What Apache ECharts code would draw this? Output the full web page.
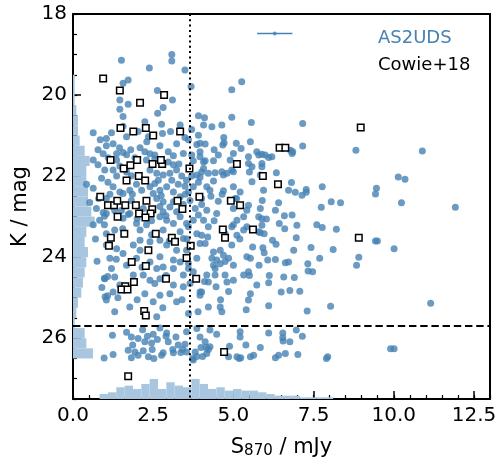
<!DOCTYPE html>
<html><head><meta charset="utf-8">
<script src="https://cdn.jsdelivr.net/npm/echarts/dist/echarts.min.js"></script>
<style>html,body{margin:0;padding:0;background:#fff}#c{width:499px;height:457px}</style>
</head><body><div id="c"></div>
<script>
// ---------- data ----------
const xTickValues = [0, 2.5, 5, 7.5, 10, 12.5];
const xMax = 13;
const yTickValues = [18, 20, 22, 24, 26];
const yMax = 27.5;

// AS2UDS sources: [S870 (mJy), K (mag)]
const as2uds = [
[1.51,19.14],[3.08,19.0],[3.08,19.16],[2.38,19.33],[3.49,19.38],[1.72,19.63],[1.56,19.71],[3.68,19.79],[4.95,19.87],[5.26,19.67],[2.63,19.89],[1.46,20.12],[1.72,20.23],[3.1,20.12],[1.46,20.35],[2.81,20.31],[2.64,20.45],[1.56,20.53],[3.91,20.51],[4.1,20.56],[4.95,20.55],
[0.63,20.93],[1.2,20.93],[1.56,20.77],[1.67,21.03],[2.03,20.9],[2.35,21.03],[2.76,20.72],[2.79,20.95],[3.04,20.9],[3.34,20.74],[3.49,21.05],[3.91,20.99],[2.24,20.66],[1.04,21.07],[3.7,20.85],
[0.78,21.35],[1.04,21.25],[1.36,21.45],[1.56,21.42],[1.67,21.47],[2.24,21.4],[2.4,21.45],[2.55,21.48],[2.97,21.4],[3.13,21.5],[3.44,21.44],[3.7,21.48],[3.96,21.4],[1.25,21.2],[2.09,21.3],[2.71,21.25],[3.23,21.2],[3.86,21.22],[0.94,21.45],
[0.78,21.72],[0.99,21.85],[1.25,21.85],[1.46,21.75],[1.67,21.9],[1.82,21.99],[2.4,21.85],[2.61,21.93],[2.81,21.97],[3.02,21.93],[3.23,21.85],[3.39,22.0],[3.54,22.1],[3.7,22.0],[3.86,21.97],[4.01,21.9],[2.29,21.6],[2.97,21.65],[3.13,21.72],[0.63,21.6],[1.36,21.6],[1.93,21.55],[3.75,21.62],
[0.63,22.3],[1.25,22.26],[1.46,22.39],[1.56,22.43],[2.4,22.26],[2.5,22.43],[2.71,22.35],[2.92,22.26],[3.13,22.39],[3.34,22.51],[3.6,22.39],[3.75,22.26],[0.89,22.05],[1.09,22.15],[1.36,22.0],[1.98,22.2],[2.14,22.35],[2.66,22.1],[3.08,22.1],[3.28,22.2],[3.91,22.15],[0.42,22.2],[1.77,22.35],[2.55,22.18],[3.49,22.25],
[2.81,22.63],[3.02,22.76],[3.13,22.63],[2.71,22.75],[3.65,22.6],[3.44,22.7],[3.81,22.8],[0.52,22.65],[0.73,22.8],[1.04,22.55],[1.51,22.85],[1.82,22.6],[2.19,22.8],[2.61,22.55],[3.23,22.88],[4.01,22.7],[0.94,22.9],[1.72,22.95],
[0.83,23.09],[1.04,22.92],[1.56,23.04],[1.77,22.92],[1.98,23.17],[2.71,23.0],[2.81,22.88],[2.92,23.09],[3.13,23.17],[3.34,23.0],[3.54,23.17],[3.75,23.09],[3.91,22.96],[2.29,23.2],[0.63,23.2],[2.45,23.1],
[4.07,20.74],[4.33,20.78],[4.64,20.74],[5.56,20.68],[3.96,21.19],[4.12,21.21],[4.67,21.23],[4.71,21.18],[5.09,21.19],[5.24,21.32],[5.53,21.15],[5.73,21.4],[5.79,21.48],[3.96,21.52],[4.12,21.62],[4.38,21.62],[4.53,21.48],[5.0,21.44],[5.47,21.52],[5.58,21.77],[4.07,21.81],[4.22,21.93],[4.43,21.92],[4.64,21.89],[4.8,21.93],[5.0,21.89],[3.96,22.03],[4.38,22.12],[4.69,21.97],[5.58,22.14],[4.27,22.35],[4.69,22.36],[5.0,22.26],[5.21,22.39],[5.06,22.55],[4.53,22.62],[4.17,22.84],[4.48,22.92],[5.0,22.8],[5.47,22.72],[5.42,22.84],[5.84,22.8],[5.79,23.0],[5.32,23.0],[5.11,23.09],[4.95,23.25],[5.42,23.25],[4.07,23.09],[4.22,23.25],[4.01,22.55],[4.17,22.26],[4.07,21.65],[4.95,21.85],[5.47,21.69],[5.84,21.97],
[7.16,20.7],[7.16,21.26],[8.82,21.36],[10.89,21.38],[5.89,21.46],[5.99,21.48],[6.1,21.54],[6.2,21.52],[5.89,21.69],[5.89,21.77],[6.34,21.92],[6.81,22.16],[6.72,22.35],[6.93,22.4],[7.14,22.47],[7.27,22.4],[7.27,22.33],[7.77,22.26],[5.94,22.35],[9.46,22.3],[9.43,22.44],[10.14,22.02],[10.35,22.08],[6.85,21.4],[6.83,21.44],[6.78,21.36],
[1.04,23.42],[1.3,23.33],[2.09,23.33],[2.81,23.33],[3.34,23.37],[3.44,23.54],[3.86,23.42],[2.09,23.58],[2.71,23.58],[2.92,23.7],[3.23,23.83],[3.54,23.83],[3.96,23.66],[1.15,24.03],[1.56,23.91],[2.09,23.83],[2.71,23.99],[3.13,24.07],[3.34,24.12],[3.86,24.03],[1.2,24.28],[1.67,24.2],[2.61,24.28],[3.13,24.28],[3.44,24.44],[0.99,24.53],[1.3,24.49],[2.19,24.44],[2.4,24.57],[2.55,24.65],[2.71,24.53],[3.13,24.69],[3.44,24.73],[3.65,24.65],[4.01,24.86],[1.25,24.86],[1.04,25.06],[2.24,24.9],[3.02,24.9],[2.5,25.1],[2.71,24.94],[1.77,25.23],[3.6,25.39],[3.96,24.94],[1.46,24.69],[1.88,24.44],[2.81,24.24],[2.4,24.12],[1.36,23.79],[1.88,23.7],[2.4,23.62],[3.6,24.28],[1.04,23.7],[3.75,24.36],[1.98,24.03],[2.61,25.47],[3.23,25.1],
[4.01,23.46],[4.12,23.66],[4.38,23.87],[4.48,24.07],[4.59,24.16],[4.74,24.11],[4.85,24.03],[4.59,23.83],[4.69,23.95],[4.38,24.2],[4.43,24.28],[4.17,24.44],[4.43,24.44],[4.74,24.44],[4.8,24.61],[5.0,24.57],[5.32,24.44],[5.47,24.36],[5.42,23.99],[5.53,24.03],[5.73,24.69],[4.46,24.73],[4.22,24.61],[3.96,24.86],[5.53,24.9],[5.47,25.06],[5.32,23.33],[5.11,23.46],[4.95,23.7],[4.22,25.23],[4.59,25.23],[4.64,25.35],[5.79,23.37],[4.74,23.42],[4.33,24.03],[5.0,24.2],
[6.41,22.66],[8.05,22.63],[8.34,22.66],[10.24,22.66],[11.92,22.77],[6.31,22.84],[6.59,22.98],[6.83,22.96],[7.74,22.77],[5.89,23.05],[6.03,23.06],[5.89,23.21],[6.43,23.17],[6.98,23.21],[7.77,23.27],[8.21,23.31],[9.43,23.6],[9.49,23.6],[10.01,23.79],[5.84,23.4],[5.96,23.42],[6.22,23.58],[6.33,23.68],[5.92,23.77],[5.96,23.89],[6.96,23.52],[6.88,23.83],[7.42,23.76],[8.11,23.81],[6.07,24.07],[6.31,24.06],[6.62,24.14],[6.72,24.12],[7.32,24.16],[7.69,24.03],[7.33,24.34],[7.47,24.36],[8.84,24.2],[8.91,24.0],[6.12,24.45],[6.1,24.63],[6.57,24.49],[6.49,24.86],[6.76,24.82],[7.07,24.84],[7.3,25.33],[8.03,25.21],[11.15,25.14],
[1.23,25.93],[1.82,25.97],[2.03,26.01],[2.17,25.79],[2.32,25.95],[2.63,26.03],[2.71,25.75],[2.9,25.95],[2.92,25.87],[3.21,25.97],[3.54,25.84],[3.86,25.76],[3.96,25.97],[5.21,25.84],[5.21,25.97],[6.1,25.87],[4.27,25.8],[4.48,25.9],[1.67,25.85],[2.5,25.9],[6.54,25.87],[6.54,25.99],[6.96,25.8],[7.15,25.95],
[0.97,26.49],[1.25,26.4],[1.72,26.3],[1.86,26.17],[1.93,26.34],[1.82,26.48],[2.03,26.42],[2.19,26.31],[2.35,26.46],[2.24,26.09],[2.45,26.12],[2.47,26.28],[2.52,26.5],[2.76,26.42],[2.81,26.36],[2.97,26.09],[3.11,26.28],[3.13,26.36],[3.28,26.17],[3.36,26.35],[3.42,26.28],[3.49,26.15],[3.54,26.34],[3.73,26.5],[3.81,26.34],[3.75,26.54],[3.86,26.45],[3.99,26.23],[4.04,26.45],[4.12,26.09],[4.17,26.38],[4.22,26.28],[4.27,26.21],[4.15,26.23],[4.88,26.2],[4.85,26.46],[5.11,26.46],[5.18,26.5],[5.23,26.48],[5.39,26.17],[5.53,26.46],[5.63,26.42],[5.84,26.23],[6.31,26.48],[6.41,26.42],[6.62,26.38],[7.01,26.4],[7.9,26.5],[7.94,26.46],[9.9,26.26],[10.01,26.26],[6.55,26.07],[6.76,26.09],
[0.98,22.99],[0.98,23.2],[0.98,24.52],[1.08,24.48],[1.0,24.98],[1.08,24.95],
[1.1,21.55],[1.45,21.3],[1.8,21.35],[2.55,21.58],[3.3,21.7],[4.4,21.35],[4.9,21.6],
[1.15,22.45],[1.85,22.45],[2.75,22.48],[3.5,22.45],[4.3,22.5],[4.65,22.45],[5.1,22.55],
[1.3,22.85],[2.0,23.05],[2.9,22.98],[3.6,23.25],[4.4,23.1],[5.0,23.2],
[1.55,23.3],[2.45,23.45],[3.0,23.6],[3.55,23.55],[4.2,23.5],[5.2,23.55],[5.6,23.75],
[1.35,24.05],[2.15,24.25],[2.9,24.45],[3.6,24.15],[4.1,24.6],[4.85,24.85],[5.5,24.45],
[1.4,25.0],[2.0,25.05],[2.8,25.25],[3.4,25.05],[3.9,25.35],[4.6,25.05],[5.4,25.3],
[0.85,21.1],[0.8,22.55],[0.7,23.55],[0.75,24.1],[0.9,24.75],[1.3,25.35],
[2.3,21.15],[3.6,21.1],[4.7,21.05],[5.5,21.9],[5.9,22.6],[5.8,24.2],[6.6,23.3],[6.9,24.5],[7.6,23.2],[6.1,25.2]
];

// Cowie+18 sources: [S870 (mJy), K (mag)]
const cowie18 = [
[0.94,19.59],[1.46,19.89],[2.09,20.19],[2.84,20.0],[1.48,20.81],[1.88,20.9],[2.27,20.81],[2.5,21.0],[3.34,20.9],[1.17,21.6],[1.58,21.81],[1.79,21.73],[2.0,21.6],[1.67,22.11],[2.05,22.0],[2.25,22.11],[2.48,21.7],[2.78,21.7],[2.74,21.6],[3.63,21.81],[0.85,22.51],[1.09,22.72],[1.28,22.72],[1.38,22.61],[1.63,22.72],[1.96,22.72],[2.29,22.61],[3.26,22.61],[3.94,22.51],[4.92,22.61],[5.21,22.72],[5.11,21.7],[5.92,22.0],[6.39,22.2],[6.44,21.3],[6.62,21.3],[8.97,20.8],[2.47,22.82],[2.42,22.92],[2.06,22.92],[2.26,23.02],[1.39,23.0],[3.41,22.81],[1.6,23.42],[1.18,23.52],[1.12,23.72],[2.58,23.42],[3.08,23.52],[3.18,23.62],[3.67,23.72],[3.54,24.02],[2.35,23.83],[1.83,24.12],[2.27,24.22],[2.9,24.53],[3.84,24.53],[1.9,24.61],[1.63,24.72],[1.51,24.8],[1.7,24.8],[2.22,25.33],[2.27,25.44],[1.72,26.94],[4.71,26.34],[4.67,23.32],[4.74,23.52],[5.61,23.32],[8.91,23.52]
];

// marginal histogram of K: [bin start (mag), count]
const kHistBinWidth = 0.25;
const kHist = [[19.5,1],[19.75,1],[20.0,1],[20.25,2],[20.5,3],[20.75,3],[21.0,4],[21.25,7],[21.5,10],[21.75,8],[22.0,8],[22.25,9],[22.5,9],[22.75,11],[23.0,13],[23.25,8],[23.5,7],[23.75,9],[24.0,8],[24.25,7],[24.5,6],[24.75,5],[25.0,3],[25.25,2],[25.5,1],[25.75,7],[26.0,8],[26.25,12]];

// marginal histogram of S870: [bin start (mJy), count]
const sHistBinWidth = 0.26;
const sHist = [[0.83,3],[1.09,4],[1.35,7],[1.61,8],[1.87,6],[2.13,9],[2.39,12],[2.65,6],[2.91,10],[3.17,8],[3.43,7],[3.69,12],[3.95,9],[4.21,6],[4.47,7],[4.73,5],[4.99,6],[5.25,5],[5.51,5],[5.77,4],[6.03,3],[6.29,2],[6.55,2],[6.81,2],[7.07,1],[7.33,1],[7.59,1],[7.85,1]];

const fluxCut = 3.63;      // vertical dotted line (mJy)
const magLimit = 25.7;     // horizontal dashed line (mag)
const errBar = {s: 6.29, k: 18.48, err: 0.55};

// ---------- chart ----------
const FONT = 'DejaVu Sans';
const BLUE = '#4682b4';
const HIST = '#a8c6df';
const chart = echarts.init(document.getElementById('c'));

function histItem(orient) {
  return function (params, api) {
    const a = api.value(0), b = api.value(1), c = api.value(2);
    let p0, p1;
    if (orient === 'y') { p0 = api.coord([0, a]); p1 = api.coord([c, b]); }
    else { p0 = api.coord([a, 0]); p1 = api.coord([b, c]); }
    return {
      type: 'rect',
      shape: {x: Math.min(p0[0], p1[0]), y: Math.min(p0[1], p1[1]),
              width: Math.abs(p1[0] - p0[0]), height: Math.abs(p1[1] - p0[1])},
      style: {fill: HIST}
    };
  };
}

const frameLine = {show: true, onZero: false, lineStyle: {color: '#000', width: 2}};
const option = {
  animation: false,
  grid: {left: 73, top: 14, width: 417, height: 385, containLabel: false, outerBoundsMode: 'none'},
  xAxis: [
    {type: 'value', position: 'bottom', min: xTickValues[0], max: xMax, interval: 2.5,
     axisLine: frameLine,
     axisTick: {inside: true, length: 8, lineStyle: {color: '#000', width: 1.5}},
     axisLabel: {color: '#000', fontFamily: FONT, fontSize: 20, margin: 7, showMaxLabel: false,
                 formatter: v => (xTickValues.indexOf(v) >= 0 ? v.toFixed(1) : '')},
     splitLine: {show: false},
     name: '{a|S}{b|870}{a| / mJy}', nameLocation: 'middle', nameGap: 38,
     nameTextStyle: {color: '#000', fontFamily: FONT, fontSize: 21,
       rich: {a: {fontFamily: FONT, fontSize: 21, color: '#000', lineHeight: 24, verticalAlign: 'top'},
              b: {fontFamily: FONT, fontSize: 15, color: '#000', lineHeight: 24, verticalAlign: 'top', padding: [7, 0, 0, 0]}}}
    },
    {type: 'value', position: 'top', min: 0, max: 250,
     axisLine: frameLine, axisTick: {show: false}, axisLabel: {show: false}, splitLine: {show: false}},
    {type: 'value', position: 'bottom', min: 0, max: xMax, interval: 0.5,
     axisLine: {show: false}, axisLabel: {show: false}, splitLine: {show: false},
     axisTick: {inside: true, length: 4, lineStyle: {color: '#000', width: 1.2}}}
  ],
  yAxis: [
    {type: 'value', position: 'left', inverse: true, min: yTickValues[0], max: yMax, interval: 2,
     axisLine: frameLine,
     axisTick: {inside: true, length: 8, lineStyle: {color: '#000', width: 1.5}},
     axisLabel: {color: '#000', fontFamily: FONT, fontSize: 20, margin: 6, showMaxLabel: false,
                 formatter: v => (yTickValues.indexOf(v) >= 0 ? String(v) : '')},
     splitLine: {show: false},
     name: 'K / mag', nameLocation: 'middle', nameGap: 35,
     nameTextStyle: {color: '#000', fontFamily: FONT, fontSize: 21}
    },
    {type: 'value', position: 'left', inverse: true, min: yTickValues[0], max: yMax, interval: 0.5,
     axisLine: {show: false}, axisLabel: {show: false}, splitLine: {show: false},
     axisTick: {inside: true, length: 4, lineStyle: {color: '#000', width: 1.2}}},
    {type: 'value', position: 'right', min: 0, max: 230,
     axisLine: frameLine, axisTick: {show: false}, axisLabel: {show: false}, splitLine: {show: false}}
  ],
  series: [
    {type: 'custom', name: 'Khist', xAxisIndex: 1, yAxisIndex: 0, z: 1, silent: true,
     data: kHist.map(d => [d[0], d[0] + kHistBinWidth, d[1]]), renderItem: histItem('y'),
     encode: {x: 2, y: [0, 1]}},
    {type: 'custom', name: 'Shist', xAxisIndex: 0, yAxisIndex: 2, z: 1, silent: true,
     data: sHist.map(d => [d[0], d[0] + sHistBinWidth, d[1]]), renderItem: histItem('x'),
     encode: {x: [0, 1], y: 2}},
    {type: 'scatter', name: 'AS2UDS', xAxisIndex: 0, yAxisIndex: 0, z: 2,
     symbolSize: 7, itemStyle: {color: BLUE, opacity: 0.8}, data: as2uds,
     markLine: {silent: true, symbol: ['none', 'none'], label: {show: false}, animation: false,
       data: [{xAxis: fluxCut, lineStyle: {color: '#000', width: 2, type: [2, 3.3]}},
              {yAxis: magLimit, lineStyle: {color: '#000', width: 2, type: [7.4, 3.8]}}]}},
    {type: 'scatter', name: 'Cowie+18', xAxisIndex: 0, yAxisIndex: 0, z: 3,
     symbol: 'rect', symbolSize: 6.5, itemStyle: {color: '#fff', borderColor: '#000', borderWidth: 1.5, opacity: 1},
     data: cowie18},
    {type: 'line', name: 'err', xAxisIndex: 0, yAxisIndex: 0, z: 3, symbol: 'none',
     lineStyle: {color: BLUE, width: 1.6},
     data: [[errBar.s - errBar.err, errBar.k], [errBar.s + errBar.err, errBar.k]]},
    {type: 'scatter', name: 'errc', xAxisIndex: 0, yAxisIndex: 0, z: 3, symbolSize: 4,
     itemStyle: {color: BLUE}, data: [[errBar.s, errBar.k]]}
  ],
  graphic: [
    {type: 'text', x: 378, y: 38, style: {text: 'AS2UDS', fill: BLUE, font: '18px "DejaVu Sans"', verticalAlign: 'middle'}},
    {type: 'text', x: 378, y: 65, style: {text: 'Cowie+18', fill: '#000', font: '18px "DejaVu Sans"', verticalAlign: 'middle'}}
  ]
};
chart.setOption(option);
</script>
</body></html>
